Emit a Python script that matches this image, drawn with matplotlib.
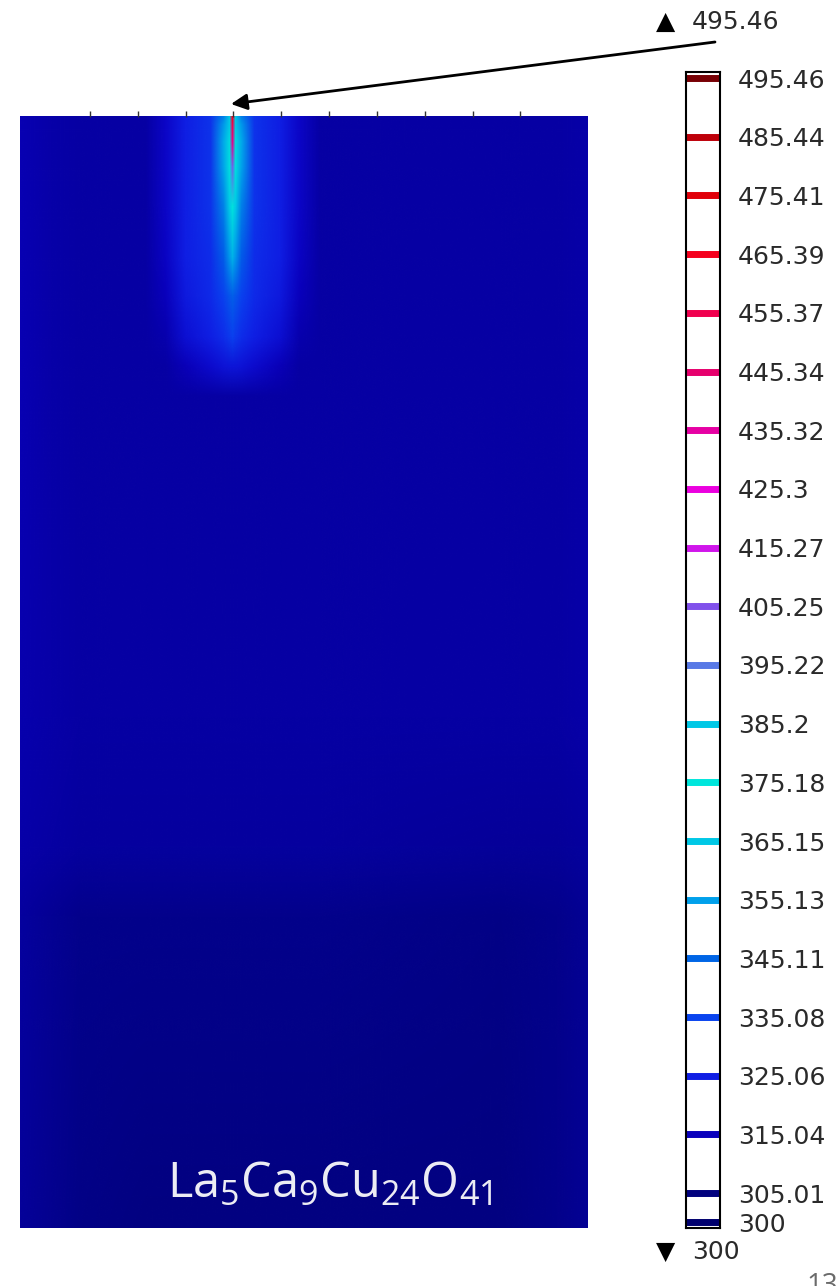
import matplotlib
matplotlib.use('Agg')
import matplotlib.pyplot as plt
import numpy as np
from matplotlib.colors import LinearSegmentedColormap, Normalize
from matplotlib.image import NonUniformImage

plt.rcParams['font.family'] = ['DejaVu Sans']
plt.rcParams['mathtext.fontset'] = 'custom'
plt.rcParams['mathtext.rm'] = 'Open Sans'

# colour legend levels (K) and the colour shown at each level
levels = [300, 305.01, 315.04, 325.06, 335.08, 345.11, 355.13, 365.15, 375.18, 385.2,
          395.22, 405.25, 415.27, 425.3, 435.32, 445.34, 455.37, 465.39, 475.41, 485.44, 495.46]
level_labels = ['300', '305.01', '315.04', '325.06', '335.08', '345.11', '355.13', '365.15',
                '375.18', '385.2', '395.22', '405.25', '415.27', '425.3', '435.32', '445.34',
                '455.37', '465.39', '475.41', '485.44', '495.46']
level_colors = ['#00006e', '#02027f', '#0a00bf', '#1020e6', '#0a46f0', '#0064e6', '#00a0eb',
                '#00c8e6', '#00e6dc', '#00c8e6', '#5a78e6', '#8250eb', '#d214eb', '#eb00e1',
                '#e600a5', '#e6006e', '#f00050', '#f5001e', '#e1000a', '#be000a', '#780005']
t_min, t_max = 300, 495.46

# temperature on a coarse grid (x across, depth from the heated top)
x_nodes = [0, 30, 60, 125, 145, 165, 190, 203, 209, 212, 215, 221, 234, 259, 279, 300, 480, 537, 567]
depth_nodes = [0, 8, 25, 50, 90, 140, 180, 220, 250, 280, 600, 730, 800, 1111]
T = [
    [313, 312, 311, 311, 317, 325, 330, 350, 385, 465, 385, 350, 330, 325, 317, 311, 311, 311, 312],
    [313, 312, 311, 311, 317, 325, 330, 354, 385, 455, 385, 354, 330, 325, 317, 311, 311, 311, 312],
    [313, 311.5, 311, 311, 317, 325, 330, 358, 380, 440, 380, 358, 330, 325, 317, 311, 311, 311, 312],
    [313, 311.5, 311, 311, 317, 325, 330, 356, 372, 400, 372, 356, 330, 325, 317, 311, 311, 311, 312],
    [313, 311.5, 311, 311, 317, 325, 330, 350, 366, 374, 366, 350, 330, 325, 317, 311, 311, 311, 312],
    [313, 311.5, 311, 311, 316.5, 324.5, 329, 342, 354, 360, 354, 342, 329, 324.5, 316.5, 311, 311, 311, 312],
    [313, 311.5, 311, 311, 315, 323.5, 328, 334, 340, 343, 340, 334, 328, 323.5, 315, 311, 311, 311, 312],
    [313, 311.5, 311, 311, 312.5, 320, 325, 329, 332, 334, 332, 329, 325, 320, 312.5, 311, 311, 311, 312],
    [313, 311.5, 311, 311, 311, 314.5, 319, 321, 322, 322, 322, 321, 319, 314.5, 311, 311, 311, 311, 312],
    [313, 311.5, 311, 311, 311, 311, 311, 311, 311, 311, 311, 311, 311, 311, 311, 311, 311, 311, 312],
    [312.5, 311.5, 311, 311, 311, 311, 311, 311, 311, 311, 311, 311, 311, 311, 311, 311, 311, 311, 312],
    [312, 311, 310.5, 310.5, 310.5, 310.5, 310.5, 310.5, 310.5, 310.5, 310.5, 310.5, 310.5, 310.5, 310.5, 310, 309.5, 309.5, 310.5],
    [310, 308.5, 307, 307, 307, 307, 307, 307, 307, 307, 307, 307, 307, 307, 307, 307, 306.5, 307, 309],
    [309.5, 308, 306.5, 306, 306, 306, 306, 306, 306, 306, 306, 306, 306, 306, 306, 306, 306, 307, 308.5],
]
hot_x = 211
top_ticks = [70, 118, 166, 213, 261, 309, 357, 405, 453, 500]

cmap = LinearSegmentedColormap.from_list(
    'heat', [((v - t_min) / (t_max - t_min), c) for v, c in zip(levels, level_colors)])
norm = Normalize(t_min, t_max)

W, H = 840, 1286
fig = plt.figure(figsize=(W / 100, H / 100), dpi=100)

# ---- temperature field ----
ax = fig.add_axes([20 / W, 58 / H, 567 / W, 1111 / H])
im = NonUniformImage(ax, interpolation='bilinear', cmap=cmap, norm=norm,
                     extent=(0, 567, 0, 1111))
im.set_data(np.array(x_nodes, float), np.array(depth_nodes, float), np.array(T))
ax.add_image(im)
ax.set_xlim(0, 567)
ax.set_ylim(1111, 0)
for s in ax.spines.values():
    s.set_visible(False)
ax.xaxis.tick_top()
ax.set_xticks(top_ticks)
ax.set_xticklabels([])
ax.tick_params(axis='x', direction='out', length=4, width=1, color='#333333')
ax.set_yticks([])

ax.text((167 - 20) / 567, 30 / 1111, r'La$_5$Ca$_9$Cu$_{24}$O$_{41}$', transform=ax.transAxes,
        family='Open Sans', fontsize=35, color='#ececf4', va='baseline', ha='left')

ax.annotate('', xy=(hot_x, -13), xycoords='data', xytext=(715, H - 42),
            textcoords='figure pixels', annotation_clip=False,
            arrowprops=dict(arrowstyle='-|>', color='black', lw=2, mutation_scale=24,
                            shrinkA=0, shrinkB=0))

# ---- colour legend ----
cb = fig.add_axes([686 / W, 58 / H, 34 / W, 1156 / H])
cb.set_facecolor('white')
cb.set_xlim(0, 1)
cb.set_ylim(299.05, 496.5)
cb.hlines(levels, 0, 1, colors=[cmap(norm(v)) for v in levels], lw=5)
cb.set_xticks([])
cb.yaxis.tick_right()
cb.set_yticks(levels)
cb.set_yticklabels(level_labels)
cb.tick_params(axis='y', which='both', left=True, right=True, direction='in', length=4,
               width=1.3, color='black', labelsize=18, labelcolor='#2a2a2a', pad=13)
for s in cb.spines.values():
    s.set_linewidth(1.5)
    s.set_color('black')

fig.text(656 / W, 1 - 22 / H, '\u25b2', fontsize=18, va='center', ha='left', color='black')
fig.text(692 / W, 1 - 22 / H, '495.46', fontsize=18, va='center', ha='left', color='#2a2a2a')
fig.text(656 / W, 1 - 1252 / H, '\u25bc', fontsize=18, va='center', ha='left', color='black')
fig.text(692 / W, 1 - 1252 / H, '300', fontsize=18, va='center', ha='left', color='#2a2a2a')

# page number, cut by the lower edge as in the source slide
fig.text(806 / W, 14 / H, '13', fontsize=20, family='Open Sans', va='top', ha='left',
         color='#6a6a6a')

fig.savefig('out.png', dpi=100, facecolor='white')
